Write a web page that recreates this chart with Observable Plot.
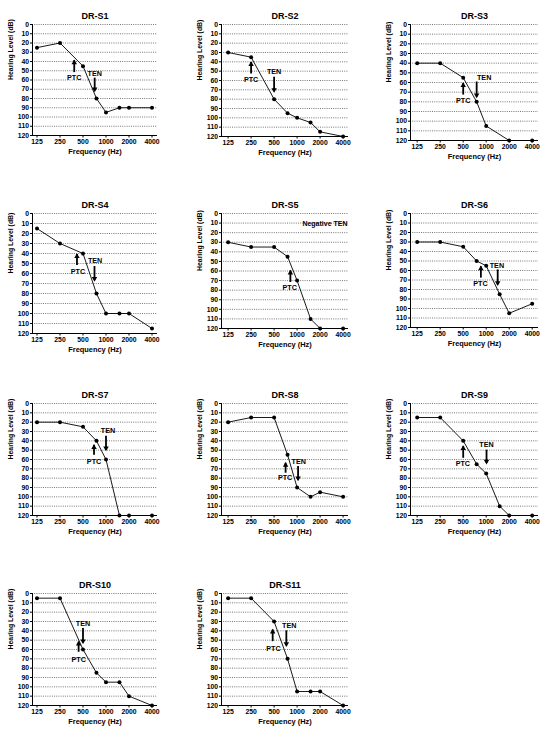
<!DOCTYPE html>
<html>
<head>
<meta charset="utf-8">
<script src="https://cdn.jsdelivr.net/npm/d3@7"></script>
<script src="https://cdn.jsdelivr.net/npm/@observablehq/plot@0.6"></script>
<style>
  html, body { margin: 0; padding: 0; background: #fff; }
  #root { position: relative; width: 548px; height: 734px; overflow: hidden; background: #fff; }
  .panel { position: absolute; }
  .panel svg { display: block; overflow: visible; }
</style>
</head>
<body>
<div id="root"></div>
<script>
// ---------- data ----------
const subjects = ["DR-S1","DR-S2","DR-S3","DR-S4","DR-S5","DR-S6","DR-S7","DR-S8","DR-S9","DR-S10","DR-S11"];
const freqs = [125, 250, 500, 750, 1000, 1500, 2000, 4000];
const levelsS1  = [25, 20, 45, 80, 95, 90, 90, 90];
const levelsS2  = [30, 35, 80, 95, 100, 105, 115, 120];
const levelsS3  = [40, 40, 55, 80, 105, null, 120, 120];
const levelsS4  = [15, 30, 40, 80, 100, 100, 100, 115];
const levelsS5  = [30, 35, 35, 45, 70, 110, 120, 120];
const levelsS6  = [30, 30, 35, 50, 55, 85, 105, 95];
const levelsS7  = [20, 20, 25, 40, 60, 120, 120, 120];
const levelsS8  = [20, 15, 15, 55, 90, 100, 95, 100];
const levelsS9  = [15, 15, 40, 65, 75, 110, 120, 120];
const levelsS10 = [5, 5, 60, 85, 95, 95, 110, 120];
const levelsS11 = [5, 5, 30, 70, 105, 105, 105, 120];
const levels = [levelsS1, levelsS2, levelsS3, levelsS4, levelsS5, levelsS6, levelsS7, levelsS8, levelsS9, levelsS10, levelsS11];

// PTC (upward arrows) and TEN (downward arrows) annotations
const ptcFreq       = [384, 250, 500, 417, 817, 852, 697, 707, 500, 438, 479];
const ptcTail       = [52, 53, 73, 52, 72, 68, 55.5, 74.7, 58.7, 63, 51.6];
const ptcTip        = [39, 40.6, 61, 41, 60, 56, 44.8, 64, 46, 52, 39];
const ptcLabelFreq  = [384, 250, 500, 430, 800, 840, 697, 697, 495, 440, 490];
const ptcLabelLevel = [58, 59, 78.5, 58, 77.6, 73.4, 62.7, 80, 65, 70.8, 58.8];
const tenFreq       = [711, 500, 750, 707, null, 1414, 1000, 1030, 1010, 500, 723];
const tenTail       = [58, 56.6, 59.5, 53, null, 59.4, 35, 67.6, 50, 37.4, 40];
const tenTip        = [72, 72, 75, 67, null, 75.2, 50, 82, 64, 53, 56];
const tenLabelFreq  = [711, 500, 940, 720, null, 1380, 1060, 1050, 1010, 500, 790];
const tenLabelLevel = [53, 50.5, 55, 47, null, 55, 28.7, 62.3, 44.5, 32, 34.5];
const notes = ["", "", "", "", "Negative TEN", "", "", "", "", "", ""];

const xTicks = [125, 250, 500, 1000, 2000, 4000];
const yTicks = [0, 10, 20, 30, 40, 50, 60, 70, 80, 90, 100, 110, 120];
const xLabel = "Frequency (Hz)";
const yLabel = "Hearing Level (dB)";

// ---------- layout (positions only) ----------
const cols = [
  {axisX: 32,  frameW: 125, off: 4.5},
  {axisX: 221, frameW: 127, off: 6.6},
  {axisX: 410, frameW: 128, off: 6.7}
];
const panelPos = [
  {col: 0, y0: 24.3,  h: 111},
  {col: 1, y0: 24.3,  h: 112},
  {col: 2, y0: 24.3,  h: 116},
  {col: 0, y0: 213.3, h: 120},
  {col: 1, y0: 213.3, h: 115},
  {col: 2, y0: 213.3, h: 114},
  {col: 0, y0: 403.3, h: 112},
  {col: 1, y0: 403.3, h: 112},
  {col: 2, y0: 403.3, h: 112},
  {col: 0, y0: 592.7, h: 112},
  {col: 1, y0: 592.7, h: 112}
];
const octavePx = 23;
const mL = 32, mT = 20, mB = 24, mR = 6;
const FONT = "'Liberation Sans', Arial, Helvetica, sans-serif";

const root = document.getElementById("root");

subjects.forEach((name, i) => {
  const pos = panelPos[i];
  const col = cols[pos.col];
  const x0 = 125 * Math.pow(2, -col.off / octavePx);
  const x1 = 125 * Math.pow(2, (col.frameW - col.off) / octavePx);

  const pts = freqs.map((f, j) => ({f, v: levels[i][j]})).filter(d => d.v != null);

  const ptc = [{f: ptcFreq[i], tail: ptcTail[i], tip: ptcTip[i], lf: ptcLabelFreq[i], ll: ptcLabelLevel[i]}];
  const ten = tenFreq[i] == null ? [] :
    [{f: tenFreq[i], tail: tenTail[i], tip: tenTip[i], lf: tenLabelFreq[i], ll: tenLabelLevel[i]}];
  const gridTicks = yTicks.filter(t => t !== 120);

  const marks = [
    Plot.ruleY(gridTicks, {y: d => d, stroke: "#555", strokeWidth: 0.8, strokeDasharray: "1,1.2"}),
    Plot.ruleY([120], {y: d => d, stroke: "#000", strokeWidth: 1}),
    Plot.ruleX([x0], {x: d => d, stroke: "#000", strokeWidth: 1}),
    Plot.axisX({ticks: xTicks, tickFormat: d => String(d), tickSize: 2.5, tickPadding: 1.5, fontSize: 6.8, label: null, stroke: "#000"}),
    Plot.axisY({ticks: yTicks, tickFormat: d => String(d), tickSize: 2, tickPadding: 1.5, fontSize: 6.8, label: null, stroke: "#000"}),
    Plot.line(pts, {x: "f", y: "v", stroke: "#000", strokeWidth: 0.9}),
    Plot.dot(pts, {x: "f", y: "v", fill: "#000", r: 2}),
    // PTC arrow (up)
    Plot.ruleX(ptc, {x: "f", y1: "tail", y2: "tip", stroke: "#000", strokeWidth: 1.8}),
    Plot.dot(ptc, {x: "f", y: "tip", symbol: "triangle2", r: 2.6, fill: "#000", dy: 2}),
    Plot.text(ptc, {x: "lf", y: "ll", text: () => "PTC", fontSize: 7.2, fill: "#000"}),
    // TEN arrow (down)
    Plot.ruleX(ten, {x: "f", y1: "tail", y2: "tip", stroke: "#000", strokeWidth: 1.8}),
    Plot.dot(ten, {x: "f", y: "tip", symbol: "triangle2", rotate: 180, r: 2.6, fill: "#000", dy: -2}),
    Plot.text(ten, {x: "lf", y: "ll", text: () => "TEN", fontSize: 7.2, fill: "#000"}),
    // title and axis labels
    Plot.text([name], {frameAnchor: "top", dy: -12, fontSize: 9, fill: "#000"}),
    Plot.text([xLabel], {frameAnchor: "bottom", dy: 18.5, fontSize: 7.4, fill: "#000"}),
    Plot.text([yLabel], {frameAnchor: "left", dx: -21.5, rotate: -90, fontSize: 6.9, fill: "#000"})
  ];
  if (notes[i]) {
    marks.push(Plot.text([notes[i]], {frameAnchor: "top-right", dx: -1, dy: 7.5, textAnchor: "end", fontSize: 7, fill: "#000"}));
  }

  const chart = Plot.plot({
    width: mL + col.frameW + mR,
    height: mT + pos.h + mB,
    marginLeft: mL, marginRight: mR, marginTop: mT, marginBottom: mB,
    x: {type: "log", domain: [x0, x1]},
    y: {domain: [0, 120], reverse: true},
    style: {fontFamily: FONT, fontWeight: "bold", background: "transparent", color: "#000", overflow: "visible"},
    marks
  });

  const div = document.createElement("div");
  div.className = "panel";
  div.style.left = (col.axisX - mL) + "px";
  div.style.top = (pos.y0 - mT) + "px";
  div.appendChild(chart);
  root.appendChild(div);
});
</script>
</body>
</html>
